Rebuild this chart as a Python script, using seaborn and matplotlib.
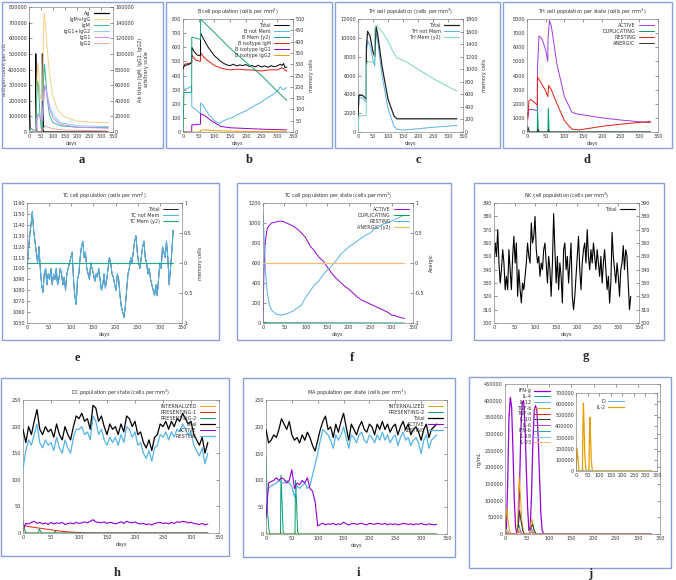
import numpy as np
import pandas as pd
import matplotlib
matplotlib.use("Agg")
import matplotlib.pyplot as plt
from matplotlib.patches import Rectangle
import seaborn as sns

sns.set_theme(style="white")
plt.rcParams['font.family'] = ['DejaVu Sans']

W, H = 676, 580
fig = plt.figure(figsize=(W / 100, H / 100), dpi=100)

BOXC = '#8aa2dc'
PURPLE = '#9400d3'; GREEN = '#009e73'; LBLUE = '#56b4e9'; ORANGE = '#e69f00'
RED = '#e51e10'; BLACK = '#000000'
FS = 3.5

# ---------------- DATA ----------------
# a: antigen & antibodies
a_ag_x = [0, 1, 3, 5, 27.5, 28, 30, 32, 55.5, 56, 58, 60, 330]
a_ag_y = [700000, 500000, 100000, 0, 0, 500000, 200000, 0, 0, 500000, 200000, 0, 0]
a_igmg_x = [0, 5, 10, 20, 28, 32, 36, 40, 45, 50, 56, 60, 63, 68, 75, 85, 100, 120, 150, 200, 250, 330]
a_igmg_y = [0, 2000, 4000, 2000, 1000, 60000, 88000, 80000, 50000, 42000, 40000, 120000, 152000, 140000, 110000, 75000, 45000, 28000, 19000, 14000, 12500, 12000]
a_igm_x = [0, 8, 15, 28, 32, 35, 40, 45, 50, 56, 60, 64, 68, 75, 85, 100, 130, 200, 330]
a_igm_y = [0, 5000, 3000, 500, 40000, 65000, 58000, 25000, 6000, 3000, 60000, 87000, 75000, 45000, 22000, 12000, 8000, 6000, 5500]
a_igg_x = [0, 28, 32, 38, 45, 50, 56, 60, 66, 72, 85, 100, 130, 200, 330]
a_igg_y = [0, 0, 15000, 24000, 20000, 18000, 16000, 40000, 60000, 55000, 35000, 22000, 12000, 8000, 7000]
a_igg1_y = [0, 0, 14000, 22000, 19000, 17000, 15000, 35000, 59000, 52000, 30000, 18000, 10000, 6000, 5000]
a_igg2_x = [0, 56, 60, 66, 80, 100, 150, 330]
a_igg2_y = [0, 0, 4000, 8000, 6000, 4000, 2500, 1500]

# b: B cells
b_tot_x = [0, 5, 20, 27.5, 28, 35, 45, 55.5, 56, 65, 80, 100, 110, 120, 130, 140, 150, 160, 170, 180, 190, 200, 210, 220, 230, 240, 250, 260, 270, 280, 290, 300, 310, 315, 320, 325, 330]
b_tot_y = [450, 470, 480, 490, 600, 570, 545, 540, 700, 660, 600, 540, 520, 500, 485, 475, 470, 480, 468, 475, 470, 478, 465, 470, 462, 472, 460, 468, 458, 470, 462, 468, 480, 470, 485, 455, 460]
b_nm_x = [0, 3, 15, 27.5, 28, 40, 55.5, 56, 65, 80, 100, 115, 125, 140, 155, 170, 185, 200, 215, 230, 245, 260, 275, 290, 300, 310, 315, 320, 330]
b_nm_y = [450, 300, 310, 325, 180, 160, 130, 205, 185, 130, 80, 60, 75, 90, 100, 120, 135, 150, 170, 190, 205, 230, 250, 270, 290, 320, 305, 300, 315]
b_mem_x = [0, 3, 27.5, 28, 55.5, 56, 100, 150, 200, 250, 300, 330]
b_mem_y = [0, 175, 175, 420, 410, 500, 440, 370, 310, 250, 180, 140]
b_igm_x = [0, 5, 27.5, 28, 40, 55.5, 56, 70, 100, 125, 150, 175, 200, 225, 250, 275, 300, 315, 330]
b_igm_y = [450, 480, 490, 545, 510, 500, 560, 520, 470, 450, 440, 445, 440, 438, 432, 440, 440, 455, 430]
b_ig1_x = [0, 27.5, 28, 55.5, 56, 70, 90, 120, 150, 200, 250, 330]
b_ig1_y = [0, 0, 50, 55, 130, 115, 80, 40, 30, 25, 20, 15]
b_ig2_x = [0, 55.5, 56, 70, 100, 150, 250, 330]
b_ig2_y = [0, 0, 12, 15, 10, 6, 3, 2]

# c: TH cells
c_tot_x = [0, 3, 15, 27.5, 28, 32, 40, 50, 55.5, 60, 65, 80, 100, 120, 130, 200, 330]
c_tot_y = [1500, 3900, 3900, 3500, 9000, 10700, 10200, 8500, 8000, 11200, 10500, 7000, 3500, 1700, 1400, 1400, 1400]
c_nm_x = [0, 3, 15, 27.5, 28, 32, 40, 50, 55.5, 60, 65, 80, 100, 120, 130, 150, 200, 250, 330]
c_nm_y = [1300, 3700, 3600, 3200, 8500, 9700, 9200, 7700, 7000, 10500, 9800, 6000, 2500, 600, 300, 200, 350, 500, 700]
c_mem_x = [0, 3, 27.5, 28, 32, 55.5, 56, 60, 80, 100, 120, 130, 160, 200, 250, 330]
c_mem_y = [0, 260, 260, 1050, 1130, 1100, 1650, 1700, 1600, 1450, 1250, 1180, 1120, 1000, 850, 650]

# d: TH per state
d_act_x = [0, 2, 5, 15, 27.5, 28, 32, 40, 50, 55.5, 56, 60, 65, 80, 100, 120, 130, 200, 250, 330]
d_act_y = [1300, 1000, 1600, 1600, 1500, 4500, 6800, 6600, 5800, 5000, 6500, 7900, 7500, 4800, 2500, 1400, 1300, 1000, 850, 650]
d_dup_x = [0, 2, 5, 8, 27.5, 28, 30, 32, 56, 57, 59, 61, 330]
d_dup_y = [0, 400, 100, 0, 0, 1800, 200, 0, 0, 1700, 100, 0, 0]
d_res_x = [0, 2, 5, 10, 20, 27.5, 28, 35, 50, 55.5, 58, 65, 80, 100, 120, 140, 200, 250, 330]
d_res_y = [1400, 900, 2200, 2300, 2100, 1900, 3900, 3600, 2900, 2500, 3300, 3000, 2000, 800, 200, 150, 400, 550, 750]
d_an_x = [0, 3, 6, 28, 29, 32, 56, 57, 60, 330]
d_an_y = [0, 300, 0, 0, 200, 0, 0, 150, 0, 0]

# e: TC cells (sampled every 3 days)
e_days = list(range(0, 331, 3))
e_notmem = [1100, 1115, 1130, 1140, 1152, 1135, 1125, 1115, 1105, 1120, 1100, 1085, 1078, 1095, 1100, 1085,
            1095, 1090, 1100, 1085, 1095, 1090, 1100, 1085, 1090, 1100, 1095, 1085, 1092, 1080, 1095, 1100,
            1105, 1110, 1115, 1090, 1075, 1067, 1090, 1095, 1110, 1120, 1125, 1110, 1115, 1100, 1095, 1090,
            1105, 1100, 1095, 1088, 1095, 1092, 1100, 1090, 1080, 1085, 1095, 1082, 1090, 1100, 1110, 1105,
            1095, 1092, 1085, 1080, 1095, 1090, 1075, 1065, 1060, 1055, 1065, 1080, 1095, 1100, 1110, 1105,
            1115, 1125, 1130, 1115, 1105, 1100, 1110, 1120, 1125, 1110, 1105, 1095, 1100, 1090, 1085, 1080,
            1075, 1085, 1075, 1090, 1105, 1100, 1120, 1115, 1110, 1125, 1110, 1085, 1100, 1115, 1135]
e_mem_x = [0, 330]
e_mem_y = [0, 0]

# f: TC per state
f_act_x = [0, 2, 5, 10, 20, 30, 40, 50, 60, 70, 80, 90, 100, 110, 120, 130, 140, 150, 160, 170, 180, 190, 200, 210, 220, 230, 240, 250, 260, 270, 280, 290, 300, 310, 320, 330]
f_act_y = [0, 500, 800, 950, 1000, 1010, 1020, 1010, 990, 970, 940, 900, 850, 770, 720, 660, 620, 560, 500, 450, 410, 370, 340, 300, 260, 230, 210, 190, 170, 150, 130, 110, 80, 70, 55, 45]
f_res_x = [0, 3, 6, 10, 15, 20, 30, 40, 50, 60, 70, 80, 90, 100, 110, 120, 130, 140, 150, 160, 170, 180, 190, 200, 210, 220, 230, 240, 250, 260, 270, 280, 290, 300, 310, 320, 330]
f_res_y = [1120, 800, 500, 300, 180, 130, 90, 80, 85, 100, 120, 150, 180, 260, 320, 380, 420, 480, 530, 570, 620, 680, 720, 760, 790, 820, 850, 880, 900, 940, 960, 990, 1000, 1020, 1040, 1060, 1080]
f_dup_x = [0, 3, 10, 330]
f_dup_y = [0, 8, 2, 0]
f_an_x = [0, 330]
f_an_y = [0, 0]

# g: NK cells (every 3 days)
g_days = list(range(0, 331, 3))
g_total = [345, 360, 350, 370, 345, 330, 340, 355, 345, 325, 335, 325, 355, 340, 325, 350, 365, 345, 360, 320,
           340, 325, 315, 330, 325, 335, 345, 360, 350, 345, 375, 360, 365, 380, 355, 345, 350, 335, 345, 340,
           355, 360, 345, 330, 350, 340, 320, 345, 382, 355, 330, 350, 325, 345, 335, 315, 355, 360, 340, 350,
           330, 345, 360, 320, 310, 320, 335, 350, 365, 340, 325, 345, 355, 360, 345, 370, 350, 340, 355, 345,
           360, 350, 340, 355, 345, 335, 350, 330, 345, 355, 340, 325, 335, 315, 330, 368, 350, 340, 330, 345,
           335, 320, 340, 345, 358, 340, 355, 350, 330, 310, 320]

# h: DC per state (every 5 days)
h_days = list(range(0, 331, 5))
h_total = [195, 170, 200, 185, 210, 232, 195, 185, 200, 190, 195, 180, 205, 185, 175, 200, 185, 175, 200, 220,
           215, 225, 210, 215, 195, 240, 235, 210, 220, 200, 185, 205, 195, 200, 185, 205, 190, 220, 215, 200,
           210, 185, 190, 170, 160, 175, 155, 180, 185, 205, 200, 210, 195, 210, 200, 215, 210, 225, 215, 205,
           210, 185, 175, 165, 180, 150, 170]
h_rest = [120, 155, 175, 165, 185, 205, 170, 160, 175, 165, 170, 155, 180, 160, 150, 175, 160, 150, 180, 195,
          195, 200, 185, 190, 175, 220, 210, 185, 195, 175, 165, 180, 170, 180, 165, 185, 170, 200, 195, 180,
          190, 165, 170, 150, 140, 155, 135, 160, 165, 185, 180, 190, 175, 190, 180, 195, 190, 205, 195, 185,
          190, 165, 155, 145, 160, 130, 150]
h_act = [5, 18, 17, 20, 22, 18, 20, 17, 19, 16, 20, 17, 19, 18, 20, 16, 18, 19, 17, 20,
         18, 19, 21, 19, 22, 25, 21, 20, 19, 21, 18, 20, 19, 17, 19, 21, 18, 22, 20, 19,
         21, 18, 17, 18, 16, 17, 15, 18, 19, 20, 18, 19, 17, 20, 18, 21, 20, 22, 21, 19,
         20, 18, 17, 16, 18, 15, 17]
h_p1_x = [0, 10, 30, 50, 70, 90, 110, 130, 330]
h_p1_y = [15, 12, 9, 6, 3, 1.5, 0.5, 0, 0]
h_p2_x = [0, 3, 6, 28, 29, 32, 35, 56, 57, 60, 330]
h_p2_y = [22, 5, 0, 0, 8, 2, 0, 0, 4, 0, 0]
h_int_x = [0, 2, 5, 330]
h_int_y = [3, 1, 0, 0]

# i: MA per state (every 5 days)
i_days = list(range(0, 331, 5))
i_total = [195, 170, 175, 185, 180, 195, 215, 205, 195, 210, 185, 175, 180, 170, 185, 175, 190, 180, 165, 155,
           175, 195, 210, 220, 195, 200, 180, 205, 190, 210, 225, 200, 175, 205, 195, 185, 200, 210, 195, 190,
           205, 200, 185, 205, 195, 210, 195, 205, 190, 200, 205, 185, 200, 210, 195, 205, 185, 195, 200, 190,
           175, 195, 205, 180, 195, 200, 205]
i_rest = [60, 85, 90, 92, 95, 100, 95, 95, 100, 95, 88, 70, 90, 85, 90, 95, 85, 90, 110, 130,
          150, 175, 195, 190, 185, 175, 160, 185, 175, 185, 200, 180, 160, 185, 180, 170, 185, 190, 175, 170,
          185, 180, 170, 185, 175, 190, 175, 185, 170, 180, 185, 165, 180, 190, 175, 180, 165, 175, 180, 170,
          150, 175, 185, 160, 175, 180, 185]
i_act = [30, 95, 98, 100, 105, 100, 105, 102, 95, 100, 120, 85, 95, 92, 100, 95, 105, 85, 80, 60,
         15, 18, 20, 17, 19, 18, 20, 17, 19, 18, 22, 19, 17, 19, 20, 18, 19, 20, 18, 17,
         20, 19, 18, 20, 19, 18, 20, 17, 19, 18, 19, 17, 18, 20, 19, 18, 19, 17, 19, 18,
         20, 18, 17, 19, 18, 17, 18]
i_p2_x = [0, 3, 6, 8, 28, 29, 31, 33, 35, 56, 57, 59, 61, 63, 330]
i_p2_y = [145, 40, 5, 0, 0, 110, 60, 5, 0, 0, 100, 60, 5, 0, 0]
i_int_x = [0, 2, 4, 28, 29, 31, 56, 57, 59, 330]
i_int_y = [6, 2, 0, 0, 4, 0, 0, 4, 0, 0]

# j: cytokines
j_ifng_x = [0, 3, 6, 9, 12, 15, 18, 21, 24, 27, 30, 33, 36, 39, 42, 45, 48, 51, 54, 57, 60, 63, 66, 69, 72, 75, 78, 81, 84, 88, 330]
j_ifng_y = [0, 5000, 150000, 350000, 410000, 380000, 250000, 100000, 20000, 0, 20000, 150000, 320000, 395000, 400000, 330000, 200000, 80000, 10000, 20000, 120000, 280000, 370000, 385000, 370000, 290000, 170000, 60000, 10000, 0, 0]
j_tgf_x = [0, 2, 4, 7, 10, 14, 28, 30, 32, 35, 38, 42, 45, 56, 58, 61, 65, 70, 330]
j_tgf_y = [0, 50000, 75000, 40000, 10000, 0, 0, 100000, 170000, 110000, 40000, 5000, 0, 0, 30000, 45000, 15000, 0, 0]
j_il10_x = [0, 28, 31, 33, 36, 40, 44, 56, 59, 62, 66, 70, 330]
j_il10_y = [0, 0, 40000, 70000, 40000, 10000, 0, 0, 20000, 30000, 10000, 0, 0]
j_il12_x = [0, 3, 6, 10, 28, 31, 34, 38, 56, 59, 62, 66, 330]
j_il12_y = [0, 15000, 8000, 0, 0, 20000, 10000, 0, 0, 15000, 8000, 0, 0]
j_il4_x = [0, 4, 8, 28, 32, 36, 56, 60, 64, 330]
j_il4_y = [0, 10000, 0, 0, 25000, 0, 0, 15000, 0, 0]
j_il6_x = [0, 5, 10, 28, 33, 38, 56, 61, 66, 330]
j_il6_y = [0, 8000, 0, 0, 12000, 0, 0, 9000, 0, 0]
j_tnf_x = [0, 4, 8, 28, 32, 36, 56, 60, 64, 330]
j_tnf_y = [0, 6000, 0, 0, 9000, 0, 0, 7000, 0, 0]
j_il23_x = [0, 3, 7, 28, 31, 35, 56, 59, 63, 330]
j_il23_y = [0, 12000, 0, 0, 18000, 0, 0, 12000, 0, 0]
j_ifnb_x = [0, 330]
j_ifnb_y = [0, 0]
j_il18_x = [0, 330]
j_il18_y = [0, 0]
j_il2_x = [0, 2, 5, 8, 12, 16, 28, 30, 32, 35, 38, 42, 46, 56, 58, 60, 63, 66, 70, 74, 330]
j_il2_y = [0, 100000, 200000, 120000, 20000, 0, 0, 400000, 610000, 400000, 150000, 20000, 0, 0, 300000, 480000, 300000, 100000, 10000, 0, 0]
j_d_x = [0, 3, 8, 28, 31, 36, 56, 59, 64, 330]
j_d_y = [0, 8000, 0, 0, 10000, 0, 0, 8000, 0, 0]

XT = [0, 50, 100, 150, 200, 250, 300, 350]


# ---------------- HELPERS ----------------
def mkax(x0, y0, x1, y1):
    return fig.add_axes([x0 / W, 1 - y1 / H, (x1 - x0) / W, (y1 - y0) / H])


def box(x0, y0, x1, y1):
    fig.add_artist(Rectangle((x0 / W, 1 - y1 / H), (x1 - x0) / W, (y1 - y0) / H,
                             transform=fig.transFigure, fill=False, ec=BOXC, lw=1.0))


def letter(x, y, s):
    fig.text(x / W, 1 - y / H, s, ha='center', va='center', fontsize=9, fontweight='bold',
             family=['Liberation Serif', 'DejaVu Serif'])


def line(ax, x, y, color, label=None, lw=0.7, z=2):
    sns.lineplot(x=x, y=y, ax=ax, color=color, lw=lw, label=label, estimator=None,
                 sort=False, legend=False, zorder=z)


def fmt(v):
    return '{:g}'.format(v) if abs(v) < 1e6 else str(int(v))


def style(ax, xlim, ylim, yticks, twin=False, xlabel='days', xticks=XT):
    ax.set_xlim(*xlim)
    ax.set_ylim(*ylim)
    ax.set_xticks(xticks)
    ax.set_xticklabels([fmt(t) for t in xticks])
    ax.set_yticks(yticks)
    ax.set_yticklabels([str(int(t)) if float(t).is_integer() else fmt(t) for t in yticks])
    ax.tick_params(direction='in', length=2.2, width=0.4, labelsize=FS, colors='#444444',
                   top=True, right=not twin, pad=1.5)
    ax.tick_params(axis='both', labelcolor='#333333')
    for s in ax.spines.values():
        s.set_color('#888888'); s.set_linewidth(0.5)
    ax.set_xlabel(xlabel, fontsize=FS, color='#333333', labelpad=1.5)
    ax.set_ylabel('')
    ax.grid(False)


def style2(ax2, ylim, yticks, ylabel=''):
    ax2.set_ylim(*ylim)
    ax2.set_yticks(yticks)
    ax2.set_yticklabels([str(int(t)) if float(t).is_integer() else fmt(t) for t in yticks])
    ax2.tick_params(direction='in', length=2.2, width=0.4, labelsize=FS, colors='#444444', pad=1.5)
    ax2.tick_params(axis='y', labelcolor='#333333')
    for s in ax2.spines.values():
        s.set_visible(False)
    ax2.set_ylabel(ylabel, fontsize=FS, color='#333333', labelpad=3)
    ax2.set_xlabel('')
    ax2.grid(False)


def legend(ax, handles_axes, **kw):
    hs, ls = [], []
    for a in handles_axes:
        h, l = a.get_legend_handles_labels()
        hs += h; ls += l
    order = kw.pop('order', None)
    if order is not None:
        pairs = dict(zip(ls, hs))
        hs = [pairs[o] for o in order]; ls = order
    lg = ax.legend(hs, ls, loc='upper right', frameon=False, markerfirst=False, fontsize=FS,
                   handlelength=3.2, labelspacing=0.2, borderaxespad=0.4, handletextpad=0.6, **kw)
    for t in lg.get_texts():
        t.set_color('#333333')
    return lg


def title(ax, s):
    ax.set_title(s, fontsize=FS, color='#333333', pad=4)


# ---------------- PANEL a ----------------
box(2, 2, 163, 148)
ax = mkax(29, 7, 113, 132)
ax2 = ax.twinx()
line(ax, a_ag_x, a_ag_y, BLACK, 'Ag', lw=0.9, z=5)
line(ax2, a_igmg_x, a_igmg_y, '#f5cf85', 'IgM+IgG')
line(ax2, a_igm_x, a_igm_y, '#3db88e', 'IgM')
line(ax2, a_igg_x, a_igg_y, '#85cdf2', 'IgG1+IgG2')
line(ax2, a_igg_x, a_igg1_y, '#d38af0', 'IgG1')
line(ax2, a_igg2_x, a_igg2_y, '#f4a5a0', 'IgG2')
style(ax, (0, 350), (0, 800000), list(range(0, 800001, 100000)), twin=True)
style2(ax2, (0, 160000), list(range(0, 160001, 20000)), 'Ab titers (IgM, IgG1, IgG2)\narbitrary scale')
ax.set_ylabel('antigen count per mL', fontsize=FS, color='#333333', labelpad=1)
legend(ax2, [ax, ax2])

# ---------------- PANEL b ----------------
box(166, 2, 332, 148)
ax = mkax(183, 19, 293, 132)
ax2 = ax.twinx()
line(ax, b_tot_x, b_tot_y, BLACK, 'Total', z=5)
line(ax, b_nm_x, b_nm_y, LBLUE, 'B not Mem')
line(ax2, b_mem_x, b_mem_y, '#1aa37a', 'B Mem (y2)')
line(ax, b_igm_x, b_igm_y, RED, 'B isotype IgM')
line(ax, b_ig1_x, b_ig1_y, PURPLE, 'B isotype IgG1')
line(ax, b_ig2_x, b_ig2_y, ORANGE, 'B isotype IgG2')
style(ax, (0, 350), (0, 800), list(range(0, 801, 100)), twin=True)
style2(ax2, (0, 500), list(range(0, 501, 50)), 'memory cells')
title(ax, 'B cell population (cells per mm$^3$)')
legend(ax2, [ax, ax2], order=['Total', 'B not Mem', 'B Mem (y2)', 'B isotype IgM', 'B isotype IgG1', 'B isotype IgG2'])

# ---------------- PANEL c ----------------
box(335, 2, 500, 148)
ax = mkax(358, 19, 463, 132)
ax2 = ax.twinx()
line(ax, c_tot_x, c_tot_y, '#222222', 'Total', lw=0.9, z=5)
line(ax, c_nm_x, c_nm_y, LBLUE, 'TH not Mem')
line(ax2, c_mem_x, c_mem_y, '#79d6bb', 'TH Mem (y2)')
style(ax, (0, 350), (0, 12000), list(range(0, 12001, 2000)), twin=True)
style2(ax2, (0, 1800), list(range(0, 1801, 200)), 'memory cells')
title(ax, 'TH cell population (cells per mm$^3$)')
legend(ax2, [ax, ax2])

# ---------------- PANEL d ----------------
box(503, 2, 672, 148)
ax = mkax(527, 19, 658, 132)
line(ax, d_act_x, d_act_y, '#a23ae0', 'ACTIVE')
line(ax, d_dup_x, d_dup_y, GREEN, 'DUPLICATING')
line(ax, d_res_x, d_res_y, RED, 'RESTING')
line(ax, d_an_x, d_an_y, '#333333', 'ANERGIC')
style(ax, (0, 350), (0, 8000), list(range(0, 8001, 1000)))
title(ax, 'TH cell population per state (cells per mm$^3$)')
legend(ax, [ax])

# ---------------- PANEL e ----------------
box(2, 183, 219, 340)
ax = mkax(27, 203, 182, 323)
ax2 = ax.twinx()
line(ax, e_days, e_notmem, BLACK, 'Total', lw=0.6)
line(ax, e_days, e_notmem, LBLUE, 'TC not Mem', lw=0.8)
line(ax2, e_mem_x, e_mem_y, '#2aa882', 'TC Mem (y2)', lw=0.8)
style(ax, (0, 350), (1050, 1160), list(range(1050, 1161, 10)), twin=True)
style2(ax2, (-1, 1), [-1, -0.5, 0, 0.5, 1], 'memory cells')
title(ax, 'TC cell population (cells per mm$^3$)')
legend(ax2, [ax, ax2])

# ---------------- PANEL f ----------------
box(237, 183, 451, 340)
ax = mkax(263, 203, 413, 323)
ax2 = ax.twinx()
line(ax, f_act_x, f_act_y, PURPLE, 'ACTIVE')
line(ax, f_dup_x, f_dup_y, GREEN, 'DUPLICATING')
line(ax, f_res_x, f_res_y, LBLUE, 'RESTING')
line(ax2, f_an_x, f_an_y, '#f0c070', 'ANERGIC (y2)', lw=0.9)
style(ax, (0, 350), (0, 1200), list(range(0, 1201, 200)), twin=True)
style2(ax2, (-1, 1), [-1, -0.5, 0, 0.5, 1], 'Anergic')
title(ax, 'TC cell population per state (cells per mm$^3$)')
legend(ax2, [ax, ax2])

# ---------------- PANEL g ----------------
box(474, 183, 664, 340)
ax = mkax(494, 203, 639, 323)
ax2 = ax.twinx()
line(ax, g_days, g_total, BLACK, 'Total', lw=0.8)
style(ax, (0, 350), (300, 390), list(range(300, 391, 10)), twin=True)
style2(ax2, (300, 390), list(range(300, 391, 10)))
title(ax, 'NK cell population (cells per mm$^3$)')
legend(ax2, [ax])

# ---------------- PANEL h ----------------
box(1, 378, 229, 556)
ax = mkax(23, 400, 219, 533)
line(ax, h_int_x, h_int_y, ORANGE, 'INTERNALIZED')
line(ax, h_p1_x, h_p1_y, RED, 'PRESENTING-1')
line(ax, h_p2_x, h_p2_y, GREEN, 'PRESENTING-2')
line(ax, h_days, h_total, BLACK, 'Total', lw=0.9, z=4)
line(ax, h_days, h_act, PURPLE, 'ACTIVE', lw=0.8)
line(ax, h_days, h_rest, LBLUE, 'RESTING', lw=0.9, z=3)
style(ax, (0, 350), (0, 250), list(range(0, 251, 50)))
title(ax, 'DC population per state (cells per mm$^3$)')
legend(ax, [ax])

# ---------------- PANEL i ----------------
box(243, 378, 455, 557)
ax = mkax(266, 400, 447, 534)
line(ax, i_int_x, i_int_y, ORANGE, 'INTERNALIZED')
line(ax, i_p2_x, i_p2_y, GREEN, 'PRESENTING-2')
line(ax, i_days, i_total, BLACK, 'Total', lw=0.9, z=4)
line(ax, i_days, i_act, PURPLE, 'ACTIVE', lw=0.8, z=5)
line(ax, i_days, i_rest, LBLUE, 'RESTING', lw=0.9, z=3)
style(ax, (0, 350), (0, 250), list(range(0, 251, 50)))
title(ax, 'MA population per state (cells per mm$^3$)')
legend(ax, [ax])

# ---------------- PANEL j ----------------
box(469, 377, 671, 568)
ax = mkax(505, 384, 660, 534)
line(ax, j_ifng_x, j_ifng_y, PURPLE, 'IFN-g', lw=0.9)
line(ax, j_il4_x, j_il4_y, GREEN, 'IL-4')
line(ax, j_il12_x, j_il12_y, LBLUE, 'IL-12')
line(ax, j_tgf_x, j_tgf_y, ORANGE, 'TGF-b')
line(ax, j_tnf_x, j_tnf_y, RED, 'TNF-a')
line(ax, j_il10_x, j_il10_y, '#333333', 'IL-10')
line(ax, j_il6_x, j_il6_y, '#b040e0', 'IL-6')
line(ax, j_ifnb_x, j_ifnb_y, '#2aa8a0', 'IFN-b')
line(ax, j_il18_x, j_il18_y, '#7cc6ee', 'IL-18')
line(ax, j_il23_x, j_il23_y, '#f3c070', 'IL-23')
style(ax, (0, 350), (0, 450000), list(range(0, 450001, 50000)), xlabel='')
ax.set_ylabel('ng/mL', fontsize=FS, color='#333333', labelpad=2)
lg = ax.legend(*ax.get_legend_handles_labels(), loc='upper left', bbox_to_anchor=(0.05, 1.0),
               frameon=False, markerfirst=False, fontsize=FS, handlelength=3.2, labelspacing=0.15,
               handletextpad=0.6)
for t in lg.get_texts():
    t.set_color('#333333')
axi = mkax(576, 393, 657, 471)
line(axi, j_d_x, j_d_y, LBLUE, 'D')
line(axi, j_il2_x, j_il2_y, ORANGE, 'IL-2', lw=0.9)
style(axi, (0, 350), (0, 700000), list(range(0, 700001, 100000)), xlabel='')
lgi = axi.legend(*axi.get_legend_handles_labels(), loc='upper left', bbox_to_anchor=(0.2, 0.98),
                 frameon=False, markerfirst=False, fontsize=FS, handlelength=3.2, labelspacing=0.15,
                 handletextpad=0.6)
for t in lgi.get_texts():
    t.set_color('#333333')

# ---------------- LETTERS ----------------
letter(82, 160, 'a'); letter(249, 160, 'b'); letter(418, 160, 'c'); letter(587, 160, 'd')
letter(77, 358, 'e'); letter(352, 358, 'f'); letter(586, 356, 'g')
letter(117, 573, 'h'); letter(358, 573, 'i'); letter(590, 574, 'j')

fig.savefig('out.png', dpi=100)
